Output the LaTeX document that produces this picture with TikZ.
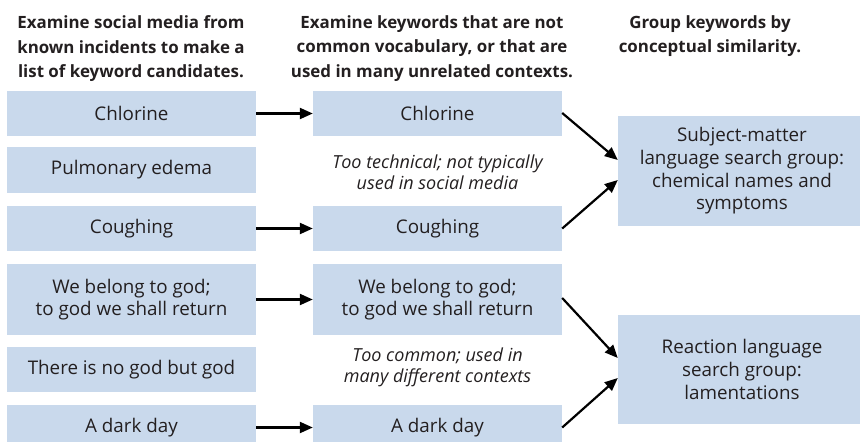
\documentclass[tikz,border=0pt]{standalone}
\usepackage{fontspec}
\setmainfont{Open Sans}
\usetikzlibrary{arrows.meta,calc}
\definecolor{boxblue}{HTML}{C9D9EC}
\definecolor{ink}{HTML}{231F20}
\tikzset{
  kbox/.style={fill=boxblue, draw=none, inner sep=0pt, align=center, text=ink,
    font=\fontsize{18.8}{22.6}\selectfont},
  lbox/.style={kbox, minimum width=249pt},
  rbox/.style={kbox, minimum width=248pt},
  head/.style={align=center, text=ink, font=\fontsize{16.9}{24.6}\selectfont\bfseries, anchor=north},
  note/.style={align=center, text=ink, font=\fontsize{18}{21}\selectfont\itshape},
  conn/.style={-{Triangle[length=13pt,width=11pt]}, line width=2.2pt, draw=black},
}
\begin{document}
\begin{tikzpicture}[x=1pt,y=-1pt]
\useasboundingbox (0,0) rectangle (860,442);
% headers
\node[head] (h1) at (131,12) {Examine social media from\\known incidents to make a\\list of keyword candidates.};
\node[head] (h2) at (432,12) {Examine keywords that are not\\common vocabulary, or that are\\used in many unrelated contexts.};
\node[head] (h3) at (710,12) {Group keywords by\\conceptual similarity.};
% left column
\node[lbox, minimum height=45pt] (L1) at (131.5,113.5) {Chlorine};
\node[lbox, minimum height=46pt] (L2) at (131.5,170) {Pulmonary edema};
\node[lbox, minimum height=45pt] (L3) at (131.5,228.5) {Coughing};
\node[lbox, minimum height=71pt] (L4) at (131.5,299.5) {We belong to god;\\to god we shall return};
\node[lbox, minimum height=45pt] (L5) at (131.5,369.5) {There is no god but god};
\node[lbox, minimum height=45pt] (L6) at (131.5,427.5) {A dark day};
% middle column
\node[lbox, minimum height=45pt] (M1) at (437.5,113.5) {Chlorine};
\node[lbox, minimum height=45pt] (M3) at (437.5,228.5) {Coughing};
\node[lbox, minimum height=71pt] (M4) at (437.5,299.5) {We belong to god;\\to god we shall return};
\node[lbox, minimum height=45pt] (M6) at (437.5,427.5) {A dark day};
\node[note] (T1) at (437.5,172) {Too technical; not typically\\used in social media};
\node[note] (T2) at (437.5,367) {Too common; used in\\many different contexts};
% right column
\node[rbox, minimum height=110pt] (R1) at (742,171) {Subject-matter\\language search group:\\chemical names and\\symptoms};
\node[rbox, minimum height=109pt] (R2) at (742,369.5) {Reaction language\\search group:\\lamentations};
% connectors
\draw[conn] (L1.east) -- (M1.west);
\draw[conn] (L3.east) -- (M3.west);
\draw[conn] (L4.east) -- (M4.west);
\draw[conn] (L6.east) -- (M6.west);
\coordinate (R1a) at ($(R1.west)+(0,-11)$);
\coordinate (R1b) at ($(R1.west)+(0,9)$);
\coordinate (R2a) at ($(R2.west)+(0,-11.5)$);
\coordinate (R2b) at ($(R2.west)+(0,8.5)$);
\draw[conn] ($(M1.east)+(0,-0.5)$) -- (R1a);
\draw[conn] (M3.east) -- (R1b);
\draw[conn] ($(M4.east)+(0,-1.5)$) -- (R2a);
\draw[conn] (M6.east) -- (R2b);
\end{tikzpicture}
\end{document}
